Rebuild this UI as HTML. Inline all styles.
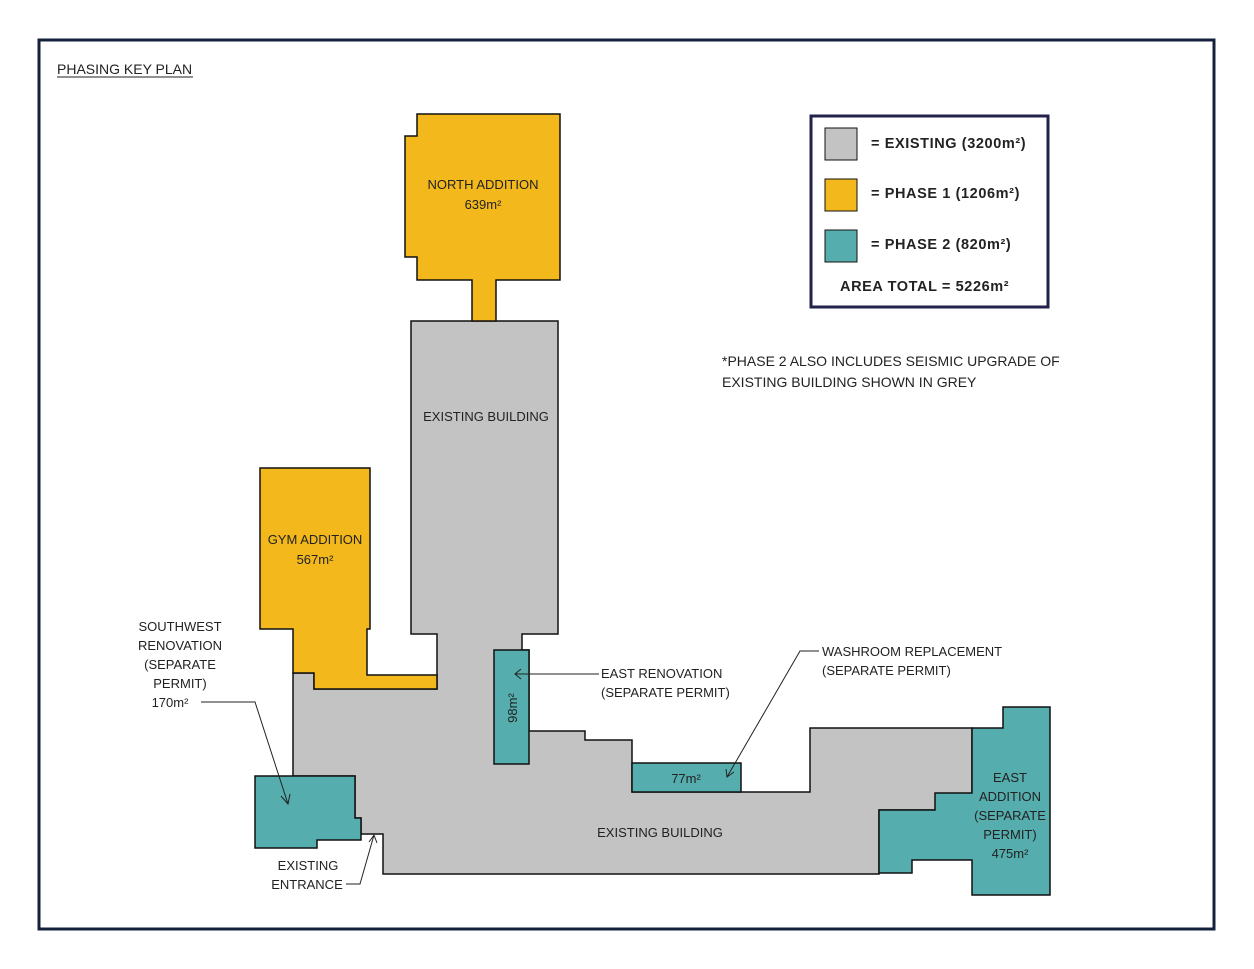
<!DOCTYPE html>
<html><head><meta charset="utf-8"><style>
html,body{margin:0;padding:0;background:#fff;width:1254px;height:969px;overflow:hidden}
svg text{font-family:"Liberation Sans",sans-serif;fill:#222}
</style></head><body>
<svg width="1254" height="969" viewBox="0 0 1254 969" xmlns="http://www.w3.org/2000/svg">
<rect x="39" y="40" width="1175" height="889" fill="none" stroke="#14213d" stroke-width="3"/>
<text x="57" y="74" font-size="14">PHASING KEY PLAN</text>
<line x1="57" y1="77" x2="193" y2="77" stroke="#222" stroke-width="1"/>

<g stroke="#111" stroke-width="1.5" stroke-linejoin="miter">
<polygon fill="#c3c3c3" points="411,321 558,321 558,634 522,634 522,650 529,650 529,731 585,731 585,740 632,740 632,792 810,792 810,728 972,728 972,810 879,810 879,874 383,874 383,834 361,834 361,818 355,818 355,776 293,776 293,673 314,673 314,689 437,689 437,634 411,634"/>
<polygon fill="#f2b81c" points="417,114 560,114 560,280 496,280 496,321 472,321 472,280 417,280 417,257 405,257 405,136 417,136"/>
<polygon fill="#f2b81c" points="260,468 370,468 370,629 367,629 367,675 437,675 437,689 314,689 314,673 293,673 293,629 260,629"/>
<polygon fill="#55adad" points="255,776 355,776 355,818 361,818 361,840 317,840 317,848 255,848"/>
<rect x="494" y="650" width="35" height="114" fill="#55adad"/>
<rect x="632" y="763" width="109" height="29" fill="#55adad"/>
<polygon fill="#55adad" points="1003,707 1050,707 1050,895 972,895 972,860 912,860 912,873 879,873 879,810 935,810 935,793 972,793 972,728 1003,728"/>
</g>

<g font-size="13" text-anchor="middle">
<text x="483" y="189">NORTH ADDITION</text>
<text x="483" y="209">639m²</text>
<text x="486" y="421">EXISTING BUILDING</text>
<text x="315" y="544">GYM ADDITION</text>
<text x="315" y="564">567m²</text>
<text x="660" y="837">EXISTING BUILDING</text>
<text x="686" y="783">77m²</text>
<text x="1010" y="782">EAST</text>
<text x="1010" y="801">ADDITION</text>
<text x="1010" y="820">(SEPARATE</text>
<text x="1010" y="839">PERMIT)</text>
<text x="1010" y="858">475m²</text>
<text transform="translate(517,708) rotate(-90)">98m²</text>
</g>

<g font-size="13" text-anchor="middle">
<text x="180" y="631">SOUTHWEST</text>
<text x="180" y="650">RENOVATION</text>
<text x="180" y="669">(SEPARATE</text>
<text x="180" y="688">PERMIT)</text>
<text x="170" y="707">170m²</text>
<text x="308" y="870">EXISTING</text>
<text x="307" y="889">ENTRANCE</text>
</g>
<g font-size="13">
<text x="601" y="678">EAST RENOVATION</text>
<text x="601" y="697">(SEPARATE PERMIT)</text>
<text x="822" y="656">WASHROOM REPLACEMENT</text>
<text x="822" y="675">(SEPARATE PERMIT)</text>
</g>
<g stroke="#222" stroke-width="1" fill="none">
<polyline points="201,702 255,702 288,804"/>
<polyline points="281,796 288,804 290,794"/>
<polyline points="346,884 360,884 374,835"/>
<polyline points="369,842 374,835 377,843"/>
<line x1="599" y1="674" x2="515" y2="674"/>
<polyline points="521,669 515,674 521,679"/>
<polyline points="819,651 800,651 727,777"/>
<polyline points="726,769 727,777 734,772"/>
</g>

<rect x="811" y="116" width="237" height="191" fill="#fff" stroke="#22224a" stroke-width="3"/>
<g stroke="#111" stroke-width="1">
<rect x="825" y="128" width="32" height="32" fill="#c3c3c3"/>
<rect x="825" y="179" width="32" height="32" fill="#f2b81c"/>
<rect x="825" y="230" width="32" height="32" fill="#55adad"/>
</g>
<g font-size="14.5" font-weight="bold" letter-spacing="0.6">
<text x="871" y="148">= EXISTING (3200m²)</text>
<text x="871" y="198">= PHASE 1 (1206m²)</text>
<text x="871" y="249">= PHASE 2 (820m²)</text>
<text x="840" y="291">AREA TOTAL = 5226m²</text>
</g>
<g font-size="14">
<text x="722" y="366">*PHASE 2 ALSO INCLUDES SEISMIC UPGRADE OF</text>
<text x="722" y="387">EXISTING BUILDING SHOWN IN GREY</text>
</g>
</svg>
</body></html>
